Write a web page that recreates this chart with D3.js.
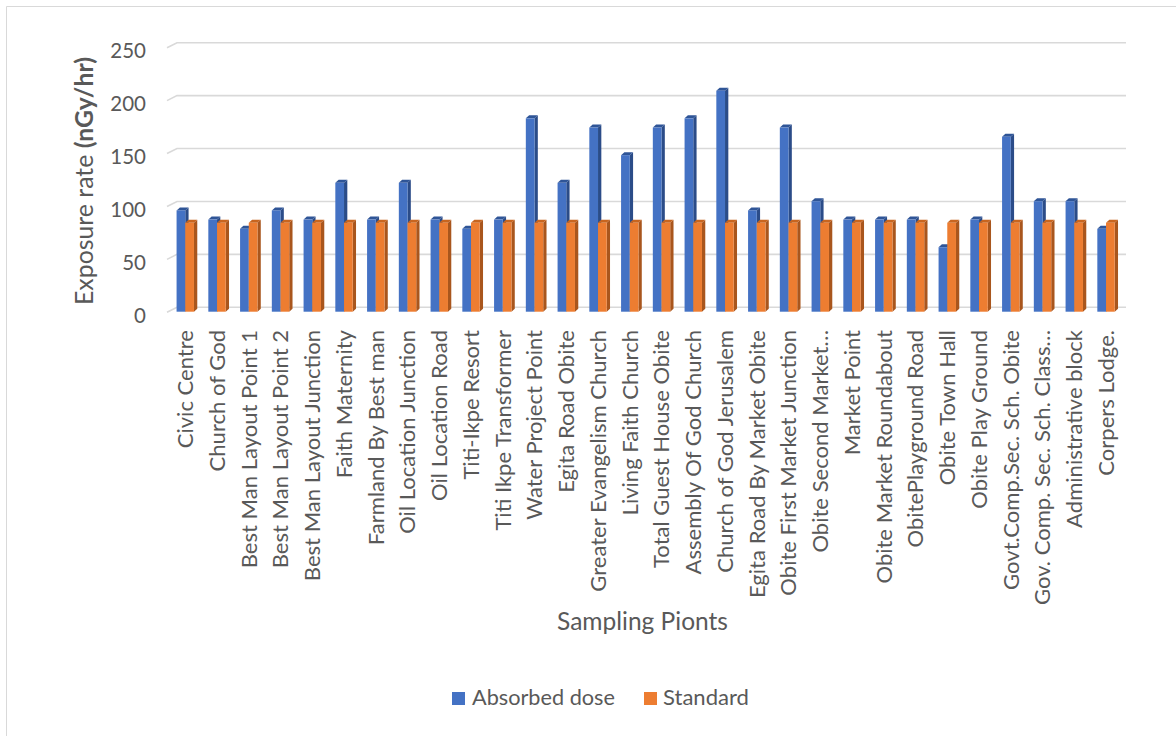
<!DOCTYPE html>
<html>
<head>
<meta charset="utf-8">
<script src="https://cdn.jsdelivr.net/npm/d3@7"></script>
<style>
  html, body { margin: 0; padding: 0; background: #ffffff; }
  svg { display: block; font-family: Lato, "Open Sans", sans-serif; }
</style>
</head>
<body>
<svg id="chart" width="1176" height="736"></svg>
<script>
// Sampling points along the survey route
const categories = [
  "Civic Centre", "Church of God", "Best Man Layout Point 1", "Best Man Layout Point 2",
  "Best Man Layout Junction", "Faith Maternity", "Farmland By Best man", "Oil Location Junction",
  "Oil Location Road", "Titi-Ikpe Resort", "Titi Ikpe Transformer", "Water Project Point",
  "Egita Road Obite", "Greater Evangelism Church", "Living Faith Church", "Total Guest House Obite",
  "Assembly Of God Church", "Church of God Jerusalem", "Egita Road By Market Obite",
  "Obite First Market Junction", "Obite Second Market\u2026", "Market Point", "Obite Market Roundabout",
  "ObitePlayground Road", "Obite Town Hall", "Obite Play Ground", "Govt.Comp.Sec. Sch. Obite",
  "Gov. Comp. Sec. Sch. Class\u2026", "Administrative block", "Corpers Lodge."
];

// Measured absorbed dose rate (nGy/hr)
const absorbedDose = [
  95.7, 87, 78.3, 95.7, 87, 121.8, 87, 121.8, 87, 78.3,
  87, 182.7, 121.8, 174, 147.9, 174, 182.7, 208.8, 95.7, 174,
  104.4, 87, 87, 87, 60.9, 87, 165.3, 104.4, 104.4, 78.3
];

// Reference standard (nGy/hr)
const standard = [
  84, 84, 84, 84, 84, 84, 84, 84, 84, 84,
  84, 84, 84, 84, 84, 84, 84, 84, 84, 84,
  84, 84, 84, 84, 84, 84, 84, 84, 84, 84
];

const seriesNames = ["Absorbed dose", "Standard"];
const yTicks = [0, 50, 100, 150, 200, 250];

const palette = {
  "Absorbed dose": { front: "#4472C4", top: "#2F5597", side: "#2B4C88" },
  "Standard":      { front: "#ED7D31", top: "#C8651F", side: "#A9561D" }
};
const textColor = "#595959";

const svg = d3.select("#chart");

// outer frame of the chart area
svg.append("path")
  .attr("d", "M6.5,740 L6.5,6.5 L1180,6.5")
  .attr("fill", "none")
  .attr("stroke", "#d9d9d9")
  .attr("stroke-width", 1);

// value scale on the back wall
const y = d3.scaleLinear().domain([0, 250]).range([307.3, 42.7]);
// category scale for the front faces of the columns
const x = d3.scaleBand().domain(categories).range([169.4, 1121.9]).paddingInner(0.452).paddingOuter(0.226);
const xs = d3.scaleBand().domain(seriesNames).range([0, x.bandwidth()]);

// 3D geometry: wall depth and column depth
const wallDx = 10, wallDy = 5;     // side wall slant at the left end of each gridline
const wallLeft = 167, wallRight = 1126;
const frontDy = 4.4;               // columns sit in front of the back wall
const colDx = 3.3, colDy = -3;     // column side/top depth

// gridlines: slanted side-wall segment + back-wall line
const grid = svg.append("g");
grid.selectAll("path")
  .data(yTicks)
  .join("path")
  .attr("d", v => `M${wallLeft},${y(v) + wallDy} L${wallLeft + wallDx},${y(v)} L${wallRight},${y(v)}`)
  .attr("fill", "none")
  .attr("stroke", "#d9d9d9")
  .attr("stroke-width", 1.6);

// value axis labels
const tickSize = 20.5;
svg.append("g")
  .selectAll("text")
  .data(yTicks)
  .join("text")
  .attr("x", 146)
  .attr("y", v => y(v) + 8 + 0.36 * tickSize)
  .attr("text-anchor", "end")
  .attr("font-size", tickSize)
  .attr("fill", textColor)
  .text(v => v);

// columns
const rows = categories.map((c, i) => ({ c, values: [absorbedDose[i], standard[i]] }));
const groups = svg.append("g").selectAll("g")
  .data(rows)
  .join("g")
  .attr("transform", d => `translate(${x(d.c)},0)`);

seriesNames.forEach((s, si) => {
  const col = palette[s];
  const w = xs.bandwidth();
  const x0 = xs(s);
  const bar = groups.append("g");
  bar.append("path") // side face
    .attr("d", d => {
      const yt = y(d.values[si]) + frontDy, yb = y(0) + frontDy;
      return `M${x0 + w},${yt} L${x0 + w + colDx},${yt + colDy} L${x0 + w + colDx},${yb + colDy} L${x0 + w},${yb} Z`;
    })
    .attr("fill", col.side);
  bar.append("path") // top face
    .attr("d", d => {
      const yt = y(d.values[si]) + frontDy;
      return `M${x0},${yt} L${x0 + w},${yt} L${x0 + w + colDx},${yt + colDy} L${x0 + colDx},${yt + colDy} Z`;
    })
    .attr("fill", col.top);
  bar.append("rect") // front face
    .attr("x", x0)
    .attr("y", d => y(d.values[si]) + frontDy)
    .attr("width", w)
    .attr("height", d => y(0) - y(d.values[si]))
    .attr("fill", col.front);
});

// scale a text element's font so its run length equals the target
function fitTo(sel, target, base) {
  sel.attr("font-size", base);
  const len = sel.node().getComputedTextLength();
  const size = base * target / len;
  sel.attr("font-size", size);
  return size;
}

// category labels, rotated, hanging from the floor
const catLabels = svg.append("g")
  .selectAll("text")
  .data(categories)
  .join("text")
  .attr("transform", d => `translate(${x(d) + x.bandwidth() / 2},330) rotate(-90)`)
  .attr("text-anchor", "end")
  .attr("dy", "0.36em")
  .attr("fill", textColor)
  .text(d => d);
const ref = catLabels.filter(d => d === "Greater Evangelism Church");
const catSize = fitTo(ref, 262, 20);
catLabels.attr("font-size", catSize);

// value axis title
const yTitle = svg.append("text")
  .attr("transform", "translate(93,181) rotate(-90)")
  .attr("text-anchor", "middle")
  .attr("fill", textColor);
yTitle.append("tspan").text("Exposure rate ");
yTitle.append("tspan").attr("font-weight", "bold").text("(nGy/hr)");
fitTo(yTitle, 248, 22);

// category axis title
const xTitle = svg.append("text")
  .attr("x", 642.5)
  .attr("y", 630)
  .attr("text-anchor", "middle")
  .attr("fill", textColor)
  .text("Sampling Pionts");
fitTo(xTitle, 171, 22);

// legend
const legendPos = [{ sx: 452, tx: 472, tw: 143 }, { sx: 644, tx: 663, tw: 86 }];
const legend = svg.append("g");
seriesNames.forEach((s, i) => {
  const p = legendPos[i];
  legend.append("rect")
    .attr("x", p.sx).attr("y", 692)
    .attr("width", 13).attr("height", 13)
    .attr("fill", palette[s].front);
  const t = legend.append("text")
    .attr("x", p.tx).attr("y", 705)
    .attr("fill", textColor)
    .text(s);
  fitTo(t, p.tw, 20);
});
</script>
</body>
</html>
